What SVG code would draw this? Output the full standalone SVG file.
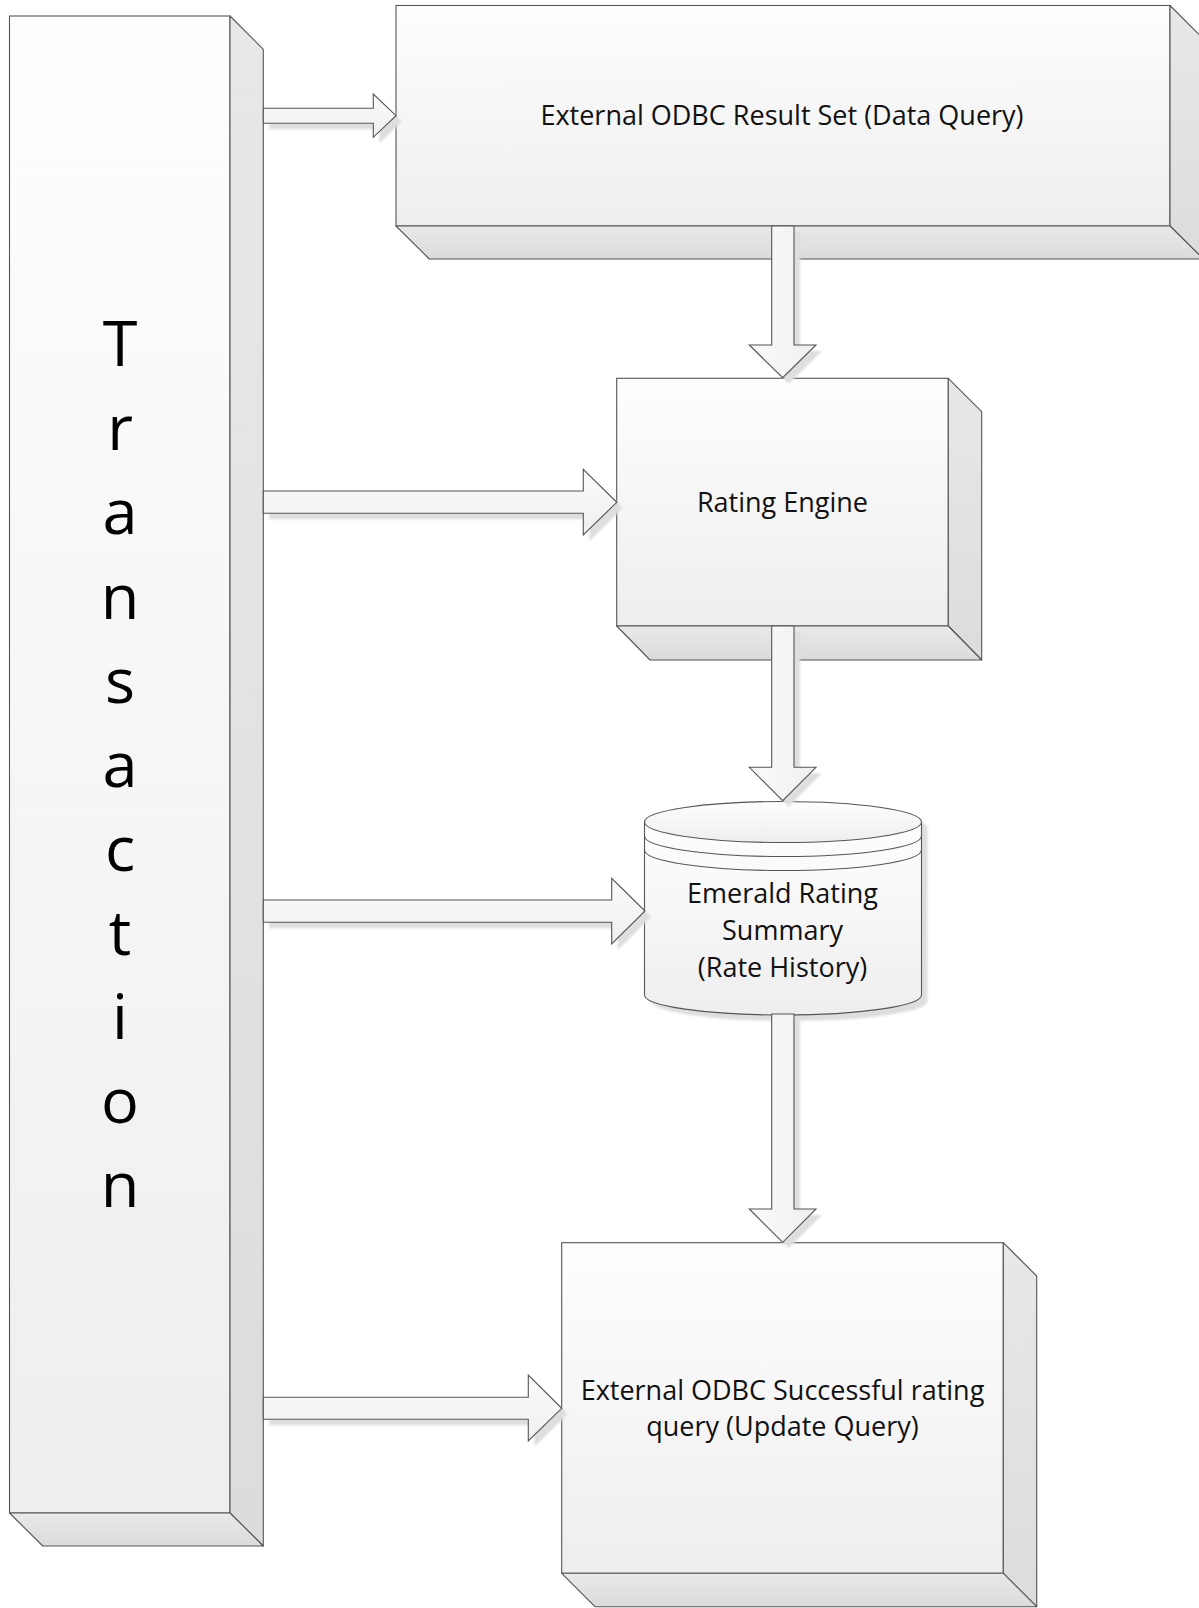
<svg xmlns="http://www.w3.org/2000/svg" width="1199" height="1608" viewBox="0 0 1199 1608">
  <defs>
    <linearGradient id="gFront" x1="0" y1="0" x2="0" y2="1">
      <stop offset="0" stop-color="#fefefe"/>
      <stop offset="1" stop-color="#eeeeee"/>
    </linearGradient>
    <linearGradient id="gSide" x1="0" y1="0" x2="0" y2="1">
      <stop offset="0" stop-color="#e8e8e8"/>
      <stop offset="1" stop-color="#dcdcdc"/>
    </linearGradient>
    <linearGradient id="gBottom" x1="0" y1="0" x2="0" y2="1">
      <stop offset="0" stop-color="#e9e9e9"/>
      <stop offset="1" stop-color="#dbdbdb"/>
    </linearGradient>
    <linearGradient id="gArrowH" x1="0" y1="0" x2="0" y2="1">
      <stop offset="0" stop-color="#fbfbfb"/>
      <stop offset="1" stop-color="#efefef"/>
    </linearGradient>
    <linearGradient id="gArrowV" x1="0" y1="0" x2="1" y2="0">
      <stop offset="0" stop-color="#fbfbfb"/>
      <stop offset="1" stop-color="#efefef"/>
    </linearGradient>
    <filter id="soft" x="-10%" y="-10%" width="120%" height="120%">
      <feGaussianBlur stdDeviation="1.2"/>
    </filter>
  </defs>
  <style>
    .front { fill: url(#gFront); stroke: #555; stroke-width: 1.1; }
    .side { fill: url(#gSide); stroke: #555; stroke-width: 1.1; stroke-linejoin: round; }
    .bottom { fill: url(#gBottom); stroke: #555; stroke-width: 1.1; stroke-linejoin: round; }
    .arrowH { fill: url(#gArrowH); stroke: #555; stroke-width: 1.1; stroke-linejoin: miter; }
    .arrowV { fill: url(#gArrowV); stroke: #555; stroke-width: 1.1; stroke-linejoin: miter; }
    .shadow { fill: #dedede; filter: url(#soft); }
    .cyl { fill: url(#gFront); stroke: #555; stroke-width: 1.1; }
    .line { fill: none; stroke: #555; stroke-width: 1.1; }
    .label { font-family: "Open Sans", "Noto Sans", sans-serif; font-size: 27px; fill: #111; text-anchor: middle; }
    .big { font-family: "Open Sans", "Noto Sans", sans-serif; font-size: 63px; fill: #000; text-anchor: middle; }
  </style>

  <!-- Transaction column -->
  <g id="transaction">
    <rect class="front" x="9.5" y="16" width="220.5" height="1497"/>
    <polygon class="side" points="230,16 263.3,49.3 263.3,1546 230,1513"/>
    <polygon class="bottom" points="9.5,1513 230,1513 263.3,1546 42.8,1546"/>
    <text class="big" x="120" y="366">T</text>
    <text class="big" x="120" y="450">r</text>
    <text class="big" x="120" y="534">a</text>
    <text class="big" x="120" y="618.5">n</text>
    <text class="big" x="120" y="702.5">s</text>
    <text class="big" x="120" y="786.5">a</text>
    <text class="big" x="120" y="870.5">c</text>
    <text class="big" x="120" y="954.5">t</text>
    <text class="big" x="120" y="1039">i</text>
    <text class="big" x="120" y="1123">o</text>
    <text class="big" x="120" y="1207">n</text>
  </g>

  <!-- External ODBC Result Set -->
  <g id="result-set">
    <rect class="front" x="396" y="5.5" width="774" height="220.5"/>
    <polygon class="side" points="1170,5.5 1203.3,38.8 1203.3,259 1170,226"/>
    <polygon class="bottom" points="396,226 1170,226 1203.3,259 429.3,259"/>
    <text class="label" x="782" y="125">External ODBC Result Set (Data Query)</text>
  </g>

  <!-- Rating Engine -->
  <g id="rating-engine">
    <rect class="front" x="616.7" y="378.3" width="331.6" height="247.7"/>
    <polygon class="side" points="948.3,378.3 981.7,411.7 981.7,660 948.3,626"/>
    <polygon class="bottom" points="616.7,626 948.3,626 981.7,660 650,660"/>
    <text class="label" x="782.5" y="511.7">Rating Engine</text>
  </g>

  <!-- Emerald Rating Summary database -->
  <g id="rating-summary">
    <path class="shadow" d="M650.5,828 V1001 A138.5,20 0 0 0 927.5,1001 V828 A138.5,20.5 0 0 0 650.5,828 Z"/>
    <path class="cyl" d="M644.5,822 V995 A138.5,20 0 0 0 921.5,995 V822 Z"/>
    <ellipse class="cyl" cx="783" cy="822" rx="138.5" ry="20.5"/>
    <path class="line" d="M644.5,836 A138.5,20.5 0 0 0 921.5,836"/>
    <path class="line" d="M644.5,850 A138.5,20.5 0 0 0 921.5,850"/>
    <text class="label" x="782.5" y="902.5">Emerald Rating</text>
    <text class="label" x="782.5" y="939.5">Summary</text>
    <text class="label" x="782.5" y="976.5">(Rate History)</text>
  </g>

  <!-- External ODBC Successful rating query -->
  <g id="update-query">
    <rect class="front" x="561.7" y="1242.7" width="441.6" height="330.6"/>
    <polygon class="side" points="1003.3,1242.7 1036.7,1276 1036.7,1606.7 1003.3,1573.3"/>
    <polygon class="bottom" points="561.7,1573.3 1003.3,1573.3 1036.7,1606.7 595,1606.7"/>
    <text class="label" x="782.5" y="1399.5">External ODBC Successful rating</text>
    <text class="label" x="782.5" y="1435.5">query (Update Query)</text>
  </g>

  <!-- Block arrows -->
  <g id="connectors">
    <g class="shadow">
      <path d="M269,114.3 H379.3 V100 L402,121.7 L379.3,143.3 V129.3 H269 Z"/>
      <path d="M269,497 H589.3 V475.3 L622.7,508.3 L589.3,541 V519.3 H269 Z"/>
      <path d="M269,906 H617.7 V884.3 L651,917 L617.7,950 V928.3 H269 Z"/>
      <path d="M269,1403.3 H534.3 V1381 L567.7,1414.3 L534.3,1447 V1425.3 H269 Z"/>
      <path d="M777.7,232 V351 H755.3 L788.7,383.7 L822,351 H800 V232 Z"/>
      <path d="M777.7,632 V773.3 H755.3 L788.7,806.7 L822,773.3 H800 V632 Z"/>
      <path d="M777.7,1020 V1215 H755.3 L788.7,1248.3 L822,1215 H800 V1020 Z"/>
    </g>
    <path id="txn-to-result-set" class="arrowH" d="M263.3,108.3 H373.3 V94 L396,115.7 L373.3,137.3 V123.3 H263.3 Z"/>
    <path id="txn-to-rating-engine" class="arrowH" d="M263.3,491 H583.3 V469.3 L616.7,502.3 L583.3,535 V513.3 H263.3 Z"/>
    <path id="txn-to-rating-summary" class="arrowH" d="M263.3,900 H611.7 V878.3 L645,911 L611.7,944 V922.3 H263.3 Z"/>
    <path id="txn-to-update-query" class="arrowH" d="M263.3,1397.3 H528.3 V1375 L561.7,1408.3 L528.3,1441 V1419.3 H263.3 Z"/>
    <path id="result-set-to-rating-engine" class="arrowV" d="M771.7,226 V345 H749.3 L782.7,377.7 L816,345 H794 V226 Z"/>
    <path id="rating-engine-to-summary" class="arrowV" d="M771.7,626 V767.3 H749.3 L782.7,800.7 L816,767.3 H794 V626 Z"/>
    <path id="summary-to-update-query" class="arrowV" d="M771.7,1014 V1209 H749.3 L782.7,1242.3 L816,1209 H794 V1014 Z"/>
  </g>
</svg>
